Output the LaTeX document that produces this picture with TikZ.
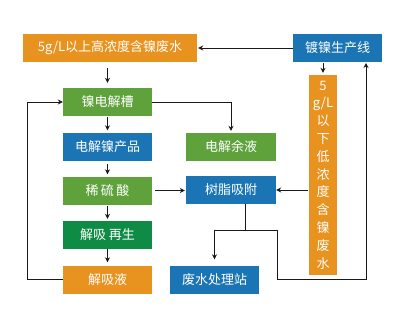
\documentclass[tikz,border=0pt]{standalone}
\usepackage{fontspec}
\newfontfamily\cjkf{Noto Sans CJK SC}
\usetikzlibrary{arrows.meta}
\definecolor{cor}{HTML}{E8931F}
\definecolor{cbl}{HTML}{1B75B5}
\definecolor{cgr}{HTML}{5FA23C}
\definecolor{cdg}{HTML}{0E8C45}
\begin{document}
\begin{tikzpicture}[x=1pt,y=-1pt,
  box/.style={draw=none,text=white,font=\cjkf\fontsize{13}{17.8}\selectfont,minimum height=28pt,inner sep=0pt,anchor=center},
  ob/.style={box,fill=cor},
  bb/.style={box,fill=cbl},
  gb/.style={box,fill=cgr},
  dgb/.style={box,fill=cdg},
  arr/.style={draw=black!90,line width=0.9pt,-{Stealth[length=5pt,width=5pt]}},
  ln/.style={draw=black!90,line width=0.9pt}]
\useasboundingbox (0,0) rectangle (395,329);
\node[ob,minimum width=174pt] (top) at (110,48) {5g/L以上高浓度含镍废水};
\node[bb,minimum width=89pt] (plat) at (337.5,48) {镀镍生产线};
\node[gb,minimum width=89pt] (cell) at (107.5,102) {镍电解槽};
\node[bb,minimum width=89pt] (prod) at (107.5,146.5) {电解镍产品};
\node[gb,minimum width=90pt] (rest) at (231,147) {电解余液};
\node[gb,minimum width=89pt] (acid) at (107.5,190.5) {稀\hspace{2.5pt}硫\hspace{2.5pt}酸};
\node[bb,minimum width=90pt] (resin) at (231,190) {树脂吸附};
\node[dgb,minimum width=89pt] (regen) at (107.5,235) {解吸 再生};
\node[ob,minimum width=89pt] (eluat) at (107.5,279.5) {解吸液};
\node[bb,minimum width=89pt] (plant) at (214.5,279.5) {废水处理站};
\node[ob,minimum width=28pt,minimum height=200pt,align=center] (low) at (323,175) {5\\g/L\\以\\下\\低\\浓\\度\\含\\镍\\废\\水};
\coordinate (j1) at (245,230);
\coordinate (j2) at (214.5,230);
\coordinate (j3) at (277,230);
\draw[arr,shorten >=1pt] (plat.west) -- (top.east);
\draw[arr,shorten <=6pt,shorten >=5pt] (top.south -| cell) -- (cell.north);
\draw[arr,shorten >=2pt] (cell.east) -- (cell.east -| rest) -- (rest.north);
\draw[arr,shorten <=1pt,shorten >=2pt] (cell.south) -- (prod.north);
\draw[arr,shorten <=3pt,shorten >=2pt] (prod.south) -- (acid.north);
\draw[arr,shorten <=3pt,shorten >=1pt] (acid.east) -- (resin.west |- acid.east);
\draw[arr,shorten <=1pt,shorten >=2pt] (acid.south) -- (regen.north);
\draw[arr,shorten >=3pt] (regen.south) -- (eluat.north);
\draw[arr] (eluat.west) -- ++(-35,0) |- (cell.west);
\draw[arr,shorten <=1pt] (low.west |- resin.east) -- (resin.east);
\draw[arr,shorten <=1pt,shorten >=2pt] (low.north |- plat.south) -- (low.north);
\draw[ln] (resin.south -| j1) -- (j1);
\draw[arr,shorten >=6pt] (j1) -- (j2) -- (plant.north);
\draw[arr,shorten >=1pt] (j1) -- (j3) -- (277,279) -- (366,279) -- (366,62);
\end{tikzpicture}
\end{document}
